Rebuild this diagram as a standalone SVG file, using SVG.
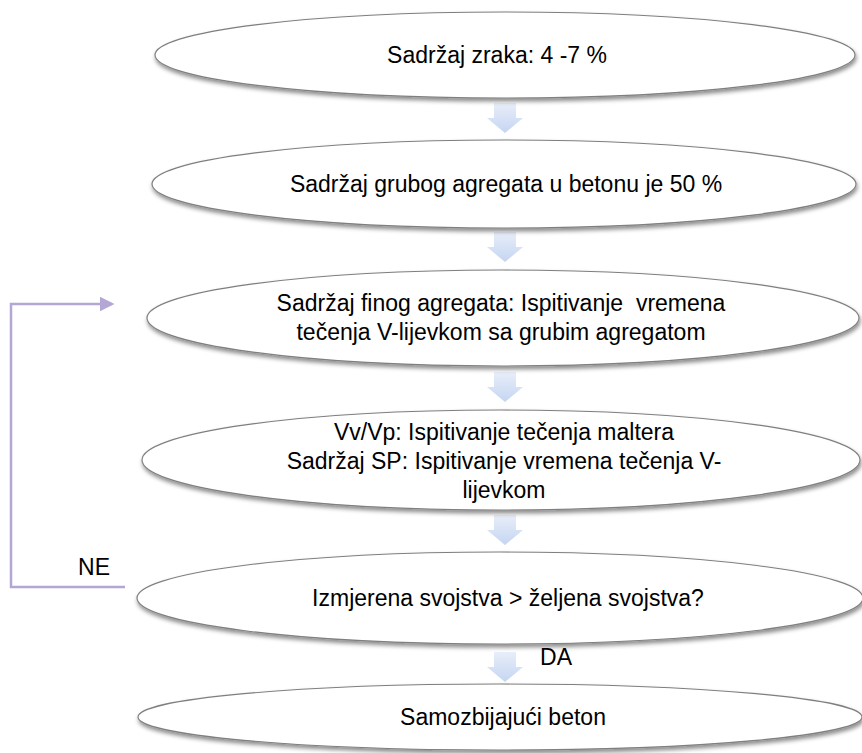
<svg xmlns="http://www.w3.org/2000/svg" width="862" height="753" viewBox="0 0 862 753">
<style>
.node ellipse{fill:#ffffff;stroke:#7f7f7f;stroke-width:1.2;filter:url(#sh)}
.node text{font-family:"Liberation Sans",Arial,sans-serif;font-size:23px;fill:#000;text-anchor:middle;white-space:pre}
.lbl{font-family:"Liberation Sans",Arial,sans-serif;font-size:23px;fill:#000;text-anchor:middle}
.blk{fill:url(#bg);stroke:none}
.loop{fill:none;stroke:#b4a7d6;stroke-width:2.5}
</style>
<defs>
<filter id="sh" x="-5%" y="-20%" width="110%" height="150%">
<feDropShadow dx="1" dy="3" stdDeviation="2" flood-color="#000" flood-opacity="0.45"/>
</filter>
<linearGradient id="bg" x1="0" y1="0" x2="0" y2="1">
<stop offset="0" stop-color="#e8eefa"/>
<stop offset="1" stop-color="#c5d5f1"/>
</linearGradient>
<marker id="ah" markerWidth="6" markerHeight="6" refX="5" refY="3" orient="auto" markerUnits="strokeWidth">
<path d="M0,0 L6,3 L0,6 z" fill="#b4a7d6"/>
</marker>
</defs>
<g id="connectors">
<path class="blk" d="M494,103 h22 v15 h7 l-18,15 l-18,-15 h7 z"/>
<path class="blk" d="M494,232 h22 v15 h7 l-18,15 l-18,-15 h7 z"/>
<path class="blk" d="M494,372 h22 v15 h7 l-18,15 l-18,-15 h7 z"/>
<path class="blk" d="M494,515 h22 v15 h7 l-18,15 l-18,-15 h7 z"/>
<path class="blk" d="M494,652 h22 v15 h7 l-18,15 l-18,-15 h7 z"/>
<path class="loop" d="M125,587 H11 V304 H112" marker-end="url(#ah)"/>
<text class="lbl" x="94" y="575">NE</text>
<text class="lbl" x="556" y="665">DA</text>
</g>
<g id="n1" class="node">
<ellipse cx="505" cy="55" rx="350" ry="43"/>
<text x="497" y="63">Sadržaj zraka: 4 -7 %</text>
</g>
<g id="n2" class="node">
<ellipse cx="504" cy="184" rx="352" ry="44"/>
<text x="506" y="192">Sadržaj grubog agregata u betonu je 50 %</text>
</g>
<g id="n3" class="node">
<ellipse cx="503" cy="318" rx="356" ry="48"/>
<text x="501" y="311" xml:space="preserve">Sadržaj finog agregata: Ispitivanje  vremena</text>
<text x="501" y="340">tečenja V-lijevkom sa grubim agregatom</text>
</g>
<g id="n4" class="node">
<ellipse cx="501" cy="460" rx="359" ry="50"/>
<text x="504" y="440">Vv/Vp: Ispitivanje tečenja maltera</text>
<text x="504" y="469">Sadržaj SP: Ispitivanje vremena tečenja V-</text>
<text x="504" y="498">lijevkom</text>
</g>
<g id="n5" class="node">
<ellipse cx="500" cy="598" rx="363" ry="46"/>
<text x="508" y="606">Izmjerena svojstva &gt; željena svojstva?</text>
</g>
<g id="n6" class="node">
<ellipse cx="500" cy="717" rx="362" ry="33"/>
<text x="503" y="725">Samozbijajući beton</text>
</g>
</svg>
